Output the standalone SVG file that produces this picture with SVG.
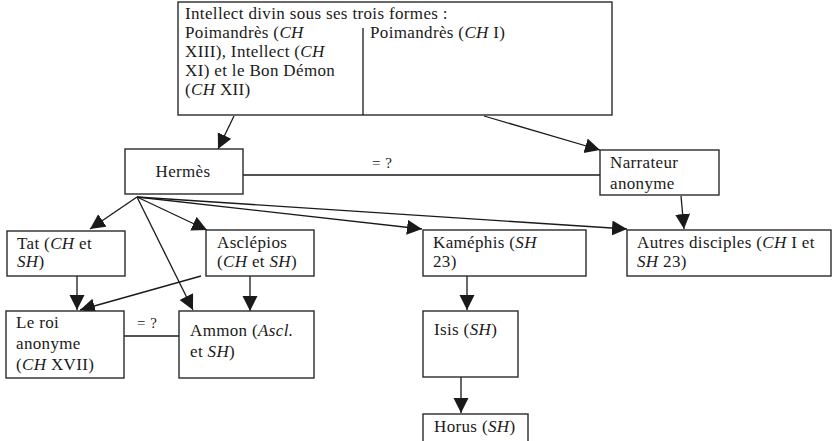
<svg xmlns="http://www.w3.org/2000/svg" width="833" height="441" viewBox="0 0 833 441" font-family="'Liberation Serif', 'Times New Roman', serif" font-size="17">
<defs>
<style>
.box{fill:#fff;stroke:#2a2a2a;stroke-width:1.4}
.ln{fill:none;stroke:#1a1a1a;stroke-width:1.3}
.arr{marker-end:url(#ah)}
text{fill:#1a1a1a;font-family:"Liberation Serif","Times New Roman",serif;font-size:17px;letter-spacing:0.35px}
text.lbl{font-size:15px;letter-spacing:0.5px}
</style>
<marker id="ah" markerUnits="userSpaceOnUse" markerWidth="16" markerHeight="16" refX="15" refY="7.5" orient="auto" viewBox="0 0 16 16">
<path d="M0,0 L15,7.5 L0,15 z" fill="#1a1a1a"/>
</marker>
</defs>
<rect width="833" height="441" fill="#fff"/>

<g id="connectors">
<line class="ln arr" x1="234" y1="116" x2="218" y2="149"/>
<line class="ln arr" x1="484" y1="116" x2="600" y2="150"/>
<line class="ln" x1="243" y1="175" x2="600" y2="175"/>
<text class="lbl" x="372" y="168">= ?</text>
<line class="ln arr" x1="681" y1="196" x2="684" y2="229"/>
<line class="ln arr" x1="137" y1="197" x2="90" y2="229"/>
<line class="ln arr" x1="137" y1="197" x2="193" y2="310"/>
<line class="ln arr" x1="137" y1="197" x2="207" y2="230"/>
<line class="ln arr" x1="137" y1="197" x2="422" y2="229"/>
<line class="ln arr" x1="137" y1="197" x2="627" y2="229"/>
<line class="ln arr" x1="77" y1="276" x2="77" y2="310"/>
<line class="ln arr" x1="201" y1="276" x2="80" y2="310"/>
<line class="ln arr" x1="250" y1="276" x2="250" y2="311"/>
<line class="ln" x1="124" y1="336" x2="179" y2="336"/>
<text class="lbl" x="137" y="328">= ?</text>
<line class="ln arr" x1="467" y1="276" x2="467" y2="310"/>
<line class="ln arr" x1="461" y1="377" x2="461" y2="413"/>
</g>

<g id="intellect">
<rect class="box" x="178" y="2" width="434" height="113"/>
<line class="ln" x1="363" y1="28" x2="363" y2="115"/>
<text x="185" y="19">Intellect divin sous ses trois formes :</text>
<text x="185" y="38">Poimandrès (<tspan font-style="italic">CH</tspan></text>
<text x="185" y="57">XIII), Intellect (<tspan font-style="italic">CH</tspan></text>
<text x="185" y="76">XI) et le Bon Démon</text>
<text x="185" y="95">(<tspan font-style="italic">CH</tspan> XII)</text>
<text x="370" y="38">Poimandrès (<tspan font-style="italic">CH</tspan> I)</text>
</g>

<g id="hermes">
<rect class="box" x="125" y="149" width="118" height="45"/>
<text x="183" y="177" text-anchor="middle">Hermès</text>
</g>

<g id="narrateur">
<rect class="box" x="600" y="150" width="119" height="45"/>
<text x="610" y="168">Narrateur</text>
<text x="610" y="189">anonyme</text>
</g>

<g id="tat">
<rect class="box" x="7" y="231" width="118" height="45"/>
<text x="17" y="249">Tat (<tspan font-style="italic">CH</tspan> et</text>
<text x="17" y="267"><tspan font-style="italic">SH</tspan>)</text>
</g>

<g id="asclepios">
<rect class="box" x="206" y="230" width="108" height="46"/>
<text x="217" y="248">Asclépios</text>
<text x="217" y="267">(<tspan font-style="italic">CH</tspan> et <tspan font-style="italic">SH</tspan>)</text>
</g>

<g id="kamephis">
<rect class="box" x="423" y="230" width="163" height="46"/>
<text x="433" y="248">Kaméphis (<tspan font-style="italic">SH</tspan></text>
<text x="433" y="267">23)</text>
</g>

<g id="autres">
<rect class="box" x="627" y="230" width="204" height="46"/>
<text x="637" y="248">Autres disciples (<tspan font-style="italic">CH</tspan> I et</text>
<text x="637" y="267"><tspan font-style="italic">SH</tspan> 23)</text>
</g>

<g id="leroi">
<rect class="box" x="6" y="311" width="118" height="67"/>
<text x="16" y="328">Le roi</text>
<text x="16" y="349">anonyme</text>
<text x="16" y="370">(<tspan font-style="italic">CH</tspan> XVII)</text>
</g>

<g id="ammon">
<rect class="box" x="179" y="311" width="135" height="67"/>
<text x="190" y="336">Ammon (<tspan font-style="italic">Ascl.</tspan></text>
<text x="190" y="357">et <tspan font-style="italic">SH</tspan>)</text>
</g>

<g id="isis">
<rect class="box" x="423" y="311" width="95" height="66"/>
<text x="434" y="335">Isis (<tspan font-style="italic">SH</tspan>)</text>
</g>

<g id="horus">
<rect class="box" x="423" y="414" width="105" height="30"/>
<text x="434" y="432">Horus (<tspan font-style="italic">SH</tspan>)</text>
</g>
</svg>
